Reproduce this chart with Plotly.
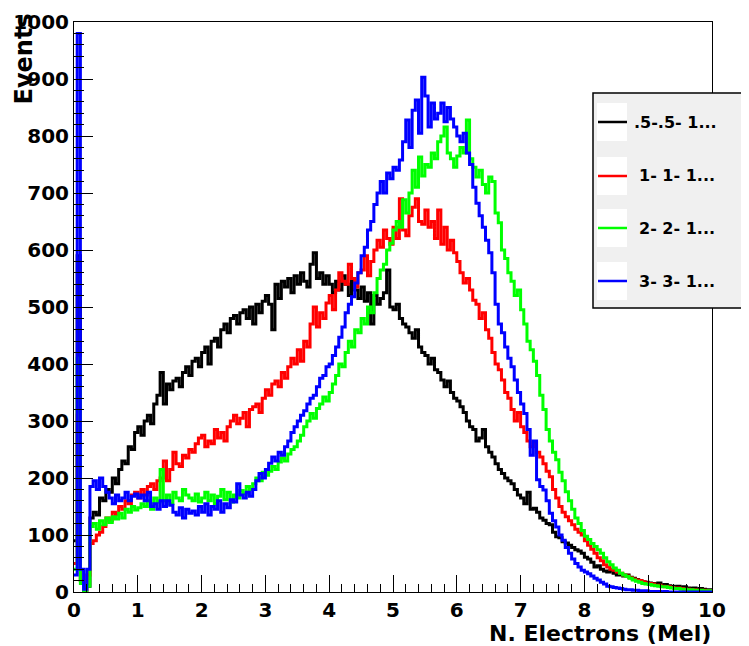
import numpy as np
import plotly.graph_objects as go

# bin width 0.05 Mel, 200 bins from 0 to 10
bin_width = 0.05
n_bins = 200

black_vals = [
    90, 590, 20, 0, 10, 130, 140, 135, 165, 160, 180, 175, 200, 190, 215, 230, 225, 255, 250, 280,
    290, 275, 300, 310, 295, 330, 345, 385, 330, 365, 355, 370, 375, 360, 385, 395, 380, 405, 410, 395,
    420, 430, 400, 440, 445, 430, 460, 470, 455, 480, 485, 470, 490, 495, 480, 500, 470, 505, 490, 510,
    520, 505, 460, 540, 515, 545, 535, 550, 525, 555, 540, 560, 545, 535, 575, 595, 550, 560, 540, 555,
    540, 525, 545, 530, 555, 540, 520, 545, 530, 515, 535, 510, 525, 470, 520, 505, 515, 525, 565, 500,
    495, 505, 480, 470, 465, 455, 445, 460, 430, 420, 415, 400, 410, 390, 385, 372, 360, 370, 350, 340,
    335, 325, 315, 300, 290, 285, 265, 270, 285, 255, 245, 237, 225, 215, 208, 200, 195, 190, 180, 170,
    165, 155, 175, 145, 147, 140, 130, 126, 120, 118, 105, 97, 95, 88, 86, 82, 78, 74, 72, 68,
    61, 58, 52, 44, 46, 40, 37, 35, 38, 33, 30, 32, 28, 30, 26, 24, 22, 20, 18, 17,
    16, 15, 14, 16, 12, 13, 11, 10, 9, 10, 8, 9, 7, 6, 7, 5, 6, 5, 4, 4,
]

red_vals = [
    50, 310, 20, 0, 30, 85, 90, 100, 105, 115, 130, 125, 140, 135, 150, 145, 160, 155, 170, 175,
    165, 180, 170, 185, 190, 180, 195, 200, 230, 195, 215, 245, 225, 220, 240, 235, 250, 245, 260, 270,
    275, 255, 265, 260, 285, 270, 280, 265, 290, 300, 310, 295, 305, 315, 290, 320, 325, 330, 315, 340,
    355, 345, 365, 370, 360, 385, 375, 395, 410, 400, 425, 405, 440, 430, 470, 500, 465, 490, 480, 507,
    520, 495, 530, 560, 545, 540, 575, 550, 535, 560, 565, 590, 555, 580, 600, 617, 605, 635, 620, 610,
    640, 620, 690, 635, 625, 660, 675, 690, 650, 645, 670, 640, 650, 620, 670, 610, 640, 600, 617, 595,
    580, 560, 542, 550, 530, 512, 505, 480, 490, 460, 445, 420, 400, 390, 372, 350, 340, 320, 300, 315,
    290, 280, 265, 255, 262, 245, 237, 225, 212, 202, 180, 165, 150, 140, 132, 125, 118, 110, 105, 100,
    90, 82, 75, 68, 60, 55, 48, 44, 40, 38, 35, 33, 30, 28, 25, 23, 21, 20, 18, 16,
    15, 14, 12, 12, 10, 9, 9, 8, 7, 7, 6, 5, 5, 4, 4, 3, 3, 3, 2, 2,
]

green_vals = [
    40, 410, 15, 0, 10, 115, 120, 110, 125, 118, 130, 122, 132, 128, 138, 130, 145, 140, 150, 144,
    148, 155, 150, 160, 145, 165, 158, 215, 160, 170, 155, 175, 165, 160, 180, 170, 165, 160, 172, 158,
    165, 175, 160, 170, 155, 168, 180, 162, 175, 158, 170, 165, 178, 172, 185, 180, 190, 200, 195, 210,
    205, 212, 220, 215, 228, 235, 230, 242, 250, 255, 265, 275, 290, 300, 313, 305, 322, 330, 342, 335,
    350, 365, 380, 400, 395, 420, 440, 430, 460, 455, 480, 470, 500, 490, 525, 550, 565, 575, 600, 612,
    635, 650, 640, 688, 665, 700, 740, 710, 763, 730, 750, 745, 770, 760, 790, 800, 816, 770, 760, 745,
    765, 780, 770, 828, 760, 745, 728, 740, 715, 700, 728, 720, 665, 648, 600, 585, 560, 545, 520, 530,
    495, 470, 440, 425, 405, 380, 345, 320, 285, 265, 245, 232, 210, 195, 176, 160, 145, 130, 120, 108,
    98, 92, 85, 80, 74, 68, 60, 53, 48, 42, 38, 33, 30, 27, 24, 21, 19, 17, 15, 14,
    13, 12, 11, 10, 9, 9, 8, 7, 6, 6, 5, 5, 4, 4, 3, 3, 3, 2, 2, 2,
]

blue_vals = [
    30, 980, 40, 5, 40, 185, 195, 180, 200, 185, 175, 165, 155, 170, 160, 165, 175, 160, 168, 172,
    165, 170, 160, 175, 150, 155, 145, 160, 150, 160, 152, 140, 135, 148, 130, 145, 138, 142, 135, 150,
    140, 155, 135, 150, 145, 160, 140, 155, 148, 162, 158, 190, 170, 165, 175, 168, 180, 195, 208, 200,
    215, 226, 237, 230, 245, 240, 255, 265, 280, 290, 300, 310, 318, 330, 340, 345, 360, 375, 380, 395,
    400, 415, 430, 447, 465, 490, 505, 518, 542, 560, 590, 605, 635, 650, 680, 700, 720, 700, 735, 725,
    745, 740, 758, 790, 828, 780, 845, 863, 805, 903, 870, 816, 858, 830, 840, 858, 825, 850, 830, 816,
    800, 790, 805, 770, 750, 710, 682, 660, 640, 617, 595, 560, 505, 470, 455, 430, 410, 395, 372, 350,
    330, 313, 285, 240, 265, 197, 185, 179, 160, 138, 125, 114, 100, 91, 78, 68, 58, 50, 44, 38,
    35, 32, 28, 24, 21, 17, 14, 10, 9, 8, 7, 6, 5, 4, 4, 3, 3, 2, 2, 2,
    1, 1, 1, 1, 0, 1, 0, 0, 0, 0, 0, 0, 0, 0, 0, 0, 0, 0, 0, 0,
]

x_ticks = list(range(0, 11))
y_ticks = list(range(0, 1001, 100))

series_names = [".5-.5- 1...", "1- 1- 1...", "2- 2- 1...", "3- 3- 1..."]
series_colors = ["#000000", "#ff0000", "#00ff00", "#0000ff"]
series_vals = [black_vals, red_vals, green_vals, blue_vals]

edges = np.round(np.arange(n_bins + 1) * bin_width, 3)

# the page body keeps its default 8px margin, so the figure sits 8px in
OFF = 8
W, H = 749 - OFF, 646 - OFF
L, R, T, B = 74, 712, 22, 592  # frame as seen on screen


def px(xp):
    return (xp - L) / (R - L)


def py(yp):
    return (B - yp) / (B - T)


fig = go.Figure()

for name, col, vals in zip(series_names, series_colors, series_vals):
    fig.add_trace(go.Scatter(
        x=list(edges),
        y=list(vals) + [vals[-1]],
        mode="lines",
        line=dict(color=col, width=3, shape="hv"),
        name=name,
        showlegend=False,
    ))

FONT = "DejaVu Sans, sans-serif"
tick_font = dict(family=FONT, size=20, color="black")

fig.update_layout(
    width=W,
    height=H,
    margin=dict(l=L - OFF, r=W - (R - OFF), t=T - OFF, b=H - (B - OFF)),
    paper_bgcolor="white",
    plot_bgcolor="white",
    showlegend=False,
    xaxis=dict(
        range=[0, 10],
        tickvals=x_ticks,
        ticktext=[f"<b>{v}</b>" for v in x_ticks],
        ticks="inside",
        ticklen=17,
        tickcolor="black",
        showgrid=False,
        zeroline=False,
        showline=True,
        linecolor="black",
        linewidth=1,
        mirror=True,
        automargin=False,
        tickfont=tick_font,
        minor=dict(dtick=0.2, ticks="inside", ticklen=8, tickcolor="black"),
    ),
    yaxis=dict(
        range=[0, 1000],
        tickvals=y_ticks,
        ticktext=[f"<b>{v}</b>" for v in y_ticks],
        ticks="inside",
        ticklen=19,
        tickcolor="black",
        showgrid=False,
        zeroline=False,
        showline=True,
        linecolor="black",
        linewidth=1,
        mirror=True,
        automargin=False,
        tickfont=tick_font,
        minor=dict(dtick=20, ticks="inside", ticklen=10, tickcolor="black"),
    ),
)

# axis titles, placed the way ROOT does it
fig.add_annotation(text="<b>Events</b>", xref="paper", yref="paper", x=px(24), y=py(11),
                   xanchor="center", yanchor="top", textangle=-90, showarrow=False,
                   font=dict(family=FONT, size=24, color="black"))
fig.add_annotation(text="<b>N. Electrons (Mel)</b>", xref="paper", yref="paper", x=px(713), y=py(633),
                   xanchor="right", yanchor="middle", showarrow=False,
                   font=dict(family=FONT, size=22, color="black"))

# legend box
fig.add_shape(type="rect", xref="paper", yref="paper",
              x0=px(593), x1=px(780), y0=py(93), y1=py(308),
              fillcolor="#f0f0f0", line=dict(color="black", width=1.5), layer="above")

item_y = [122, 176, 228, 281]
for name, col, yc in zip(series_names, series_colors, item_y):
    fig.add_shape(type="rect", xref="paper", yref="paper",
                  x0=px(597), x1=px(627), y0=py(yc - 19), y1=py(yc + 19),
                  fillcolor="white", line=dict(width=0), layer="above")
    fig.add_shape(type="line", xref="paper", yref="paper",
                  x0=px(598), x1=px(627), y0=py(yc), y1=py(yc),
                  line=dict(color=col, width=2.5), layer="above")
    fig.add_annotation(text=f"<b>{name}</b>", xref="paper", yref="paper",
                       x=px(632 if name.startswith(".") else 637), y=py(yc),
                       xanchor="left", yanchor="middle", showarrow=False,
                       font=dict(family=FONT, size=16, color="black"))

fig.write_html("out.html")
